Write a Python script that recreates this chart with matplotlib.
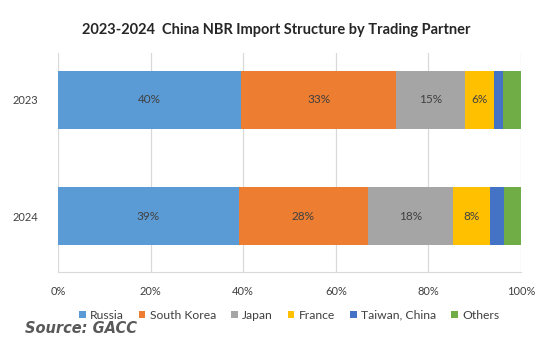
import matplotlib
matplotlib.use("agg")
import matplotlib.pyplot as plt
import numpy as np

years = ["2023", "2024"]
partners = ["Russia", "South Korea", "Japan", "France", "Taiwan, China", "Others"]
share_2023 = [39.6, 33.4, 14.9, 6.3, 1.8, 4.0]
share_2024 = [39.0, 27.9, 18.4, 8.0, 3.0, 3.7]
colors = ["#5B9BD5", "#ED7D31", "#A5A5A5", "#FFC000", "#4472C4", "#70AD47"]
xticks = [0, 20, 40, 60, 80, 100]

plt.rcParams['font.family'] = ['Lato', 'DejaVu Sans']

data = np.array([share_2023, share_2024])
ypos = np.arange(len(years))

fig = plt.figure(figsize=(5.52, 3.49), dpi=100)
ax = fig.add_axes([0.105, 0.221, 0.839, 0.627])

left = np.zeros(len(years))
for j, name in enumerate(partners):
    bars = ax.barh(ypos, data[:, j], left=left, height=0.5, color=colors[j],
                   label=name, zorder=3)
    if j < 4:
        for i, b in enumerate(bars):
            ax.text(left[i] + data[i, j] / 2, ypos[i], "%d%%" % round(data[i, j]),
                    ha='center', va='center', fontsize=8.5, color='#404040', zorder=4)
    left = left + data[:, j]

ax.set_xlim(0, 100)
ax.set_ylim(1.48, -0.4)
ax.set_yticks(ypos)
ax.set_yticklabels(years)
ax.set_xticks(xticks)
ax.set_xticklabels(["%d%%" % t for t in xticks])
ax.tick_params(axis='both', labelsize=8, colors='#404040', length=0)
ax.tick_params(axis='x', pad=10)
ax.tick_params(axis='y', pad=14)
ax.grid(axis='x', color='#D9D9D9', linewidth=0.9, zorder=0)
for s in ['top', 'right', 'left']:
    ax.spines[s].set_visible(False)
ax.spines['bottom'].set_color('#D9D9D9')

fig.text(0.5, 0.914, "2023-2024  China NBR Import Structure by Trading Partner",
         ha='center', va='center', fontsize=10.5, fontweight='bold', color='#262626')

fig.legend(*ax.get_legend_handles_labels(), loc='center',
           bbox_to_anchor=(0.5236, 0.097), ncol=6, frameon=False,
           fontsize=8.7, handlelength=0.55, handleheight=0.55, handletextpad=0.35,
           columnspacing=1.25, labelcolor='#404040')

fig.text(0.045, 0.06, "Source: GACC", fontsize=10.5, fontweight='bold',
         style='italic', color='#595959', va='center', family=['DejaVu Sans'])

fig.savefig("out.png", dpi=100)
